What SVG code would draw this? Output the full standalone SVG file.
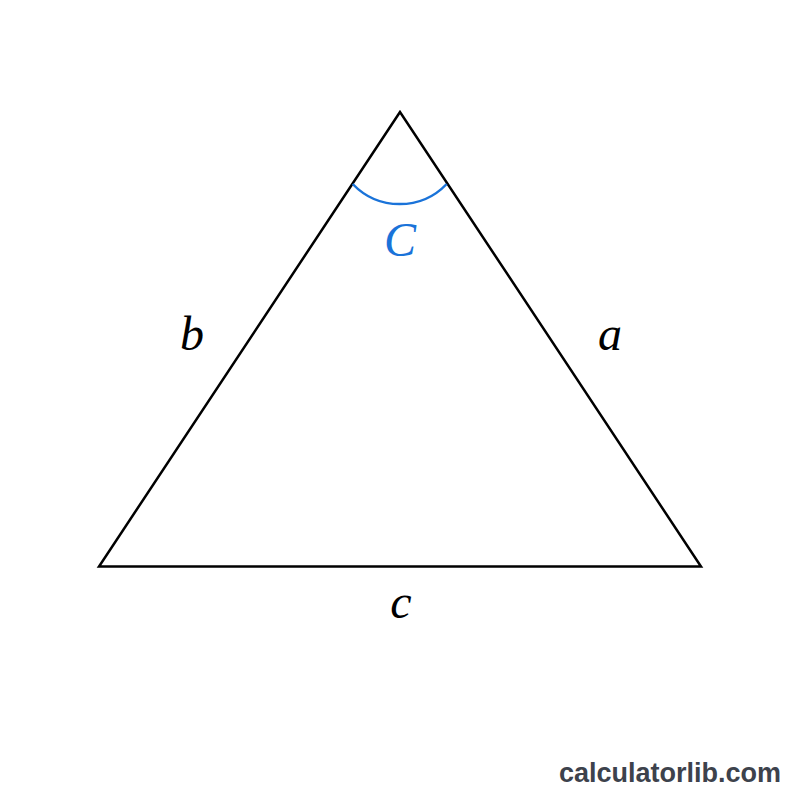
<svg xmlns="http://www.w3.org/2000/svg" width="800" height="800" viewBox="0 0 800 800">
<style>
text.lbl{font-family:'Liberation Serif',serif;font-style:italic;font-size:48px;text-anchor:middle}
.side{fill:#000}
.ang{fill:#1a73d9}
</style>
<rect width="800" height="800" fill="#fff"/>
<g id="connectors">
<polygon id="triangle" points="400,112 99,566.5 701,566.5" fill="none" stroke="#000" stroke-width="2.5" stroke-linejoin="miter"/>
<path id="angle-arc" d="M352.7,184 A65,65 0 0 0 446.7,184" fill="none" stroke="#1a73d9" stroke-width="2.5"/>
</g>
<g id="label-C"><text class="lbl ang" x="400" y="256" font-family="Liberation Serif, serif" font-style="italic">C</text></g>
<g id="label-b"><text class="lbl side" x="192" y="350" font-family="Liberation Serif, serif" font-style="italic">b</text></g>
<g id="label-a"><text class="lbl side" x="610" y="350" font-family="Liberation Serif, serif" font-style="italic">a</text></g>
<g id="label-c"><text class="lbl side" x="401" y="618" font-family="Liberation Serif, serif" font-style="italic">c</text></g>
<g id="watermark"><text x="559" y="782" font-family="Liberation Sans, Arial, sans-serif" font-weight="bold" font-size="27" fill="#3d424c">calculatorlib.com</text></g>
</svg>
